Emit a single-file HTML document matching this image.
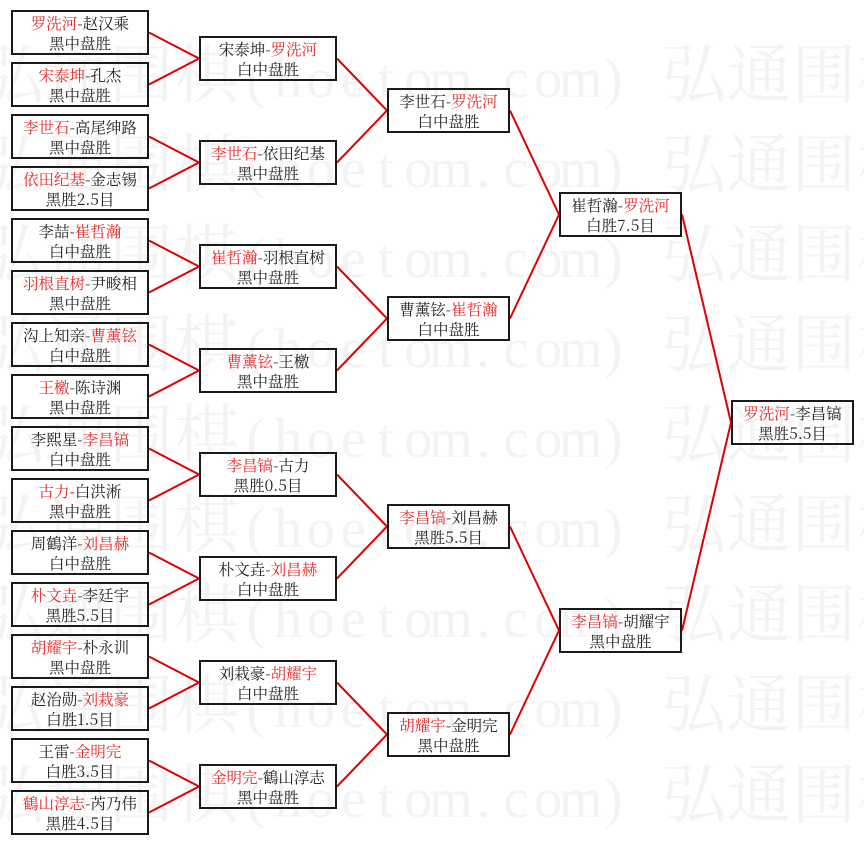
<!DOCTYPE html>
<html>
<head>
<meta charset="utf-8">
<style>
  html, body { margin:0; padding:0; background:#ffffff; }
  body { width:864px; height:845px; position:relative; overflow:hidden; }
  svg.bg { position:absolute; left:0; top:0; }
  .w { font-family:"Noto Serif CJK SC","Liberation Serif",serif; font-size:64px; fill:#f3f3f3; }
  .wa { font-family:"Liberation Serif","Noto Serif CJK SC",serif; font-size:56px; fill:#f3f3f3; text-anchor:middle; }
  .b { position:absolute; box-sizing:border-box; height:45px; border:2px solid #1a1a1a;
       text-align:center; font-family:"Noto Serif CJK SC",serif;
       font-size:15.5px; line-height:20px; padding-top:1px; color:#222; white-space:nowrap; }
  .r { color:#e52b2b; }
  .r1 { left:11px; width:138px; }
  .r2 { left:199px; width:138px; }
  .r3 { left:387px; width:123px; }
  .r4 { left:559px; width:123px; }
  .r5 { left:731px; width:123px; }
</style>
</head>
<body>
<svg class="bg" width="864" height="845" viewBox="0 0 864 845" xmlns="http://www.w3.org/2000/svg">
  <g>
    <text class="w" y="97" x="-20.5 44.5 109.5 174.5">弘通围棋</text><text class="wa" y="97" x="255.75 288.25 320.75 353.25 385.75 418.25 450.75 483.25 515.75 548.25 580.75 613.25">(hoetom.com)</text><text class="w" y="97" x="662 727 792 857">弘通围棋</text>
    <text class="w" y="187" x="-20.5 44.5 109.5 174.5">弘通围棋</text><text class="wa" y="187" x="255.75 288.25 320.75 353.25 385.75 418.25 450.75 483.25 515.75 548.25 580.75 613.25">(hoetom.com)</text><text class="w" y="187" x="662 727 792 857">弘通围棋</text>
    <text class="w" y="277" x="-20.5 44.5 109.5 174.5">弘通围棋</text><text class="wa" y="277" x="255.75 288.25 320.75 353.25 385.75 418.25 450.75 483.25 515.75 548.25 580.75 613.25">(hoetom.com)</text><text class="w" y="277" x="662 727 792 857">弘通围棋</text>
    <text class="w" y="367" x="-20.5 44.5 109.5 174.5">弘通围棋</text><text class="wa" y="367" x="255.75 288.25 320.75 353.25 385.75 418.25 450.75 483.25 515.75 548.25 580.75 613.25">(hoetom.com)</text><text class="w" y="367" x="662 727 792 857">弘通围棋</text>
    <text class="w" y="457" x="-20.5 44.5 109.5 174.5">弘通围棋</text><text class="wa" y="457" x="255.75 288.25 320.75 353.25 385.75 418.25 450.75 483.25 515.75 548.25 580.75 613.25">(hoetom.com)</text><text class="w" y="457" x="662 727 792 857">弘通围棋</text>
    <text class="w" y="547" x="-20.5 44.5 109.5 174.5">弘通围棋</text><text class="wa" y="547" x="255.75 288.25 320.75 353.25 385.75 418.25 450.75 483.25 515.75 548.25 580.75 613.25">(hoetom.com)</text><text class="w" y="547" x="662 727 792 857">弘通围棋</text>
    <text class="w" y="637" x="-20.5 44.5 109.5 174.5">弘通围棋</text><text class="wa" y="637" x="255.75 288.25 320.75 353.25 385.75 418.25 450.75 483.25 515.75 548.25 580.75 613.25">(hoetom.com)</text><text class="w" y="637" x="662 727 792 857">弘通围棋</text>
    <text class="w" y="727" x="-20.5 44.5 109.5 174.5">弘通围棋</text><text class="wa" y="727" x="255.75 288.25 320.75 353.25 385.75 418.25 450.75 483.25 515.75 548.25 580.75 613.25">(hoetom.com)</text><text class="w" y="727" x="662 727 792 857">弘通围棋</text>
    <text class="w" y="817" x="-20.5 44.5 109.5 174.5">弘通围棋</text><text class="wa" y="817" x="255.75 288.25 320.75 353.25 385.75 418.25 450.75 483.25 515.75 548.25 580.75 613.25">(hoetom.com)</text><text class="w" y="817" x="662 727 792 857">弘通围棋</text>
  </g>
  <g fill="none" stroke="#e00000" stroke-width="2" stroke-linejoin="miter">
    <polyline points="149,32.5 199,58.5 149,84.5"/>
    <polyline points="149,136.5 199,162.5 149,188.5"/>
    <polyline points="149,240.5 199,266.5 149,292.5"/>
    <polyline points="149,344.5 199,370.5 149,396.5"/>
    <polyline points="149,448.5 199,474.5 149,500.5"/>
    <polyline points="149,552.5 199,578.5 149,604.5"/>
    <polyline points="149,656.5 199,682.5 149,708.5"/>
    <polyline points="149,760.5 199,786.5 149,812.5"/>
    <polyline points="337,58.5 387,110.5 337,162.5"/>
    <polyline points="337,266.5 387,318.5 337,370.5"/>
    <polyline points="337,474.5 387,526.5 337,578.5"/>
    <polyline points="337,682.5 387,734.5 337,786.5"/>
    <polyline points="510,110.5 559,214.5 510,318.5"/>
    <polyline points="510,526.5 559,630.5 510,734.5"/>
    <polyline points="682,214.5 731,422.5 682,630.5"/>
  </g>
</svg>

<!-- Round 1 -->
<div class="b r1" style="top:10px"><span class="r">罗洗河</span>-赵汉乘<br>黑中盘胜</div>
<div class="b r1" style="top:62px"><span class="r">宋泰坤</span>-孔杰<br>黑中盘胜</div>
<div class="b r1" style="top:114px"><span class="r">李世石</span>-高尾绅路<br>黑中盘胜</div>
<div class="b r1" style="top:166px"><span class="r">依田纪基</span>-金志锡<br>黑胜2.5目</div>
<div class="b r1" style="top:218px">李喆-<span class="r">崔哲瀚</span><br>白中盘胜</div>
<div class="b r1" style="top:270px"><span class="r">羽根直树</span>-尹畯相<br>黑中盘胜</div>
<div class="b r1" style="top:322px">沟上知亲-<span class="r">曹薰铉</span><br>白中盘胜</div>
<div class="b r1" style="top:374px"><span class="r">王檄</span>-陈诗渊<br>黑中盘胜</div>
<div class="b r1" style="top:426px">李熙星-<span class="r">李昌镐</span><br>白中盘胜</div>
<div class="b r1" style="top:478px"><span class="r">古力</span>-白洪淅<br>黑中盘胜</div>
<div class="b r1" style="top:530px">周鶴洋-<span class="r">刘昌赫</span><br>白中盘胜</div>
<div class="b r1" style="top:582px"><span class="r">朴文垚</span>-李廷宇<br>黑胜5.5目</div>
<div class="b r1" style="top:634px"><span class="r">胡耀宇</span>-朴永训<br>黑中盘胜</div>
<div class="b r1" style="top:686px">赵治勋-<span class="r">刘栽豪</span><br>白胜1.5目</div>
<div class="b r1" style="top:738px">王雷-<span class="r">金明完</span><br>白胜3.5目</div>
<div class="b r1" style="top:790px"><span class="r">鶴山淳志</span>-芮乃伟<br>黑胜4.5目</div>

<!-- Round 2 -->
<div class="b r2" style="top:36px">宋泰坤-<span class="r">罗洗河</span><br>白中盘胜</div>
<div class="b r2" style="top:140px"><span class="r">李世石</span>-依田纪基<br>黑中盘胜</div>
<div class="b r2" style="top:244px"><span class="r">崔哲瀚</span>-羽根直树<br>黑中盘胜</div>
<div class="b r2" style="top:348px"><span class="r">曹薰铉</span>-王檄<br>黑中盘胜</div>
<div class="b r2" style="top:452px"><span class="r">李昌镐</span>-古力<br>黑胜0.5目</div>
<div class="b r2" style="top:556px">朴文垚-<span class="r">刘昌赫</span><br>白中盘胜</div>
<div class="b r2" style="top:660px">刘栽豪-<span class="r">胡耀宇</span><br>白中盘胜</div>
<div class="b r2" style="top:764px"><span class="r">金明完</span>-鶴山淳志<br>黑中盘胜</div>

<!-- Round 3 -->
<div class="b r3" style="top:88px">李世石-<span class="r">罗洗河</span><br>白中盘胜</div>
<div class="b r3" style="top:296px">曹薰铉-<span class="r">崔哲瀚</span><br>白中盘胜</div>
<div class="b r3" style="top:504px"><span class="r">李昌镐</span>-刘昌赫<br>黑胜5.5目</div>
<div class="b r3" style="top:712px"><span class="r">胡耀宇</span>-金明完<br>黑中盘胜</div>

<!-- Round 4 -->
<div class="b r4" style="top:192px">崔哲瀚-<span class="r">罗洗河</span><br>白胜7.5目</div>
<div class="b r4" style="top:608px"><span class="r">李昌镐</span>-胡耀宇<br>黑中盘胜</div>

<!-- Final -->
<div class="b r5" style="top:400px"><span class="r">罗洗河</span>-李昌镐<br>黑胜5.5目</div>
</body>
</html>
